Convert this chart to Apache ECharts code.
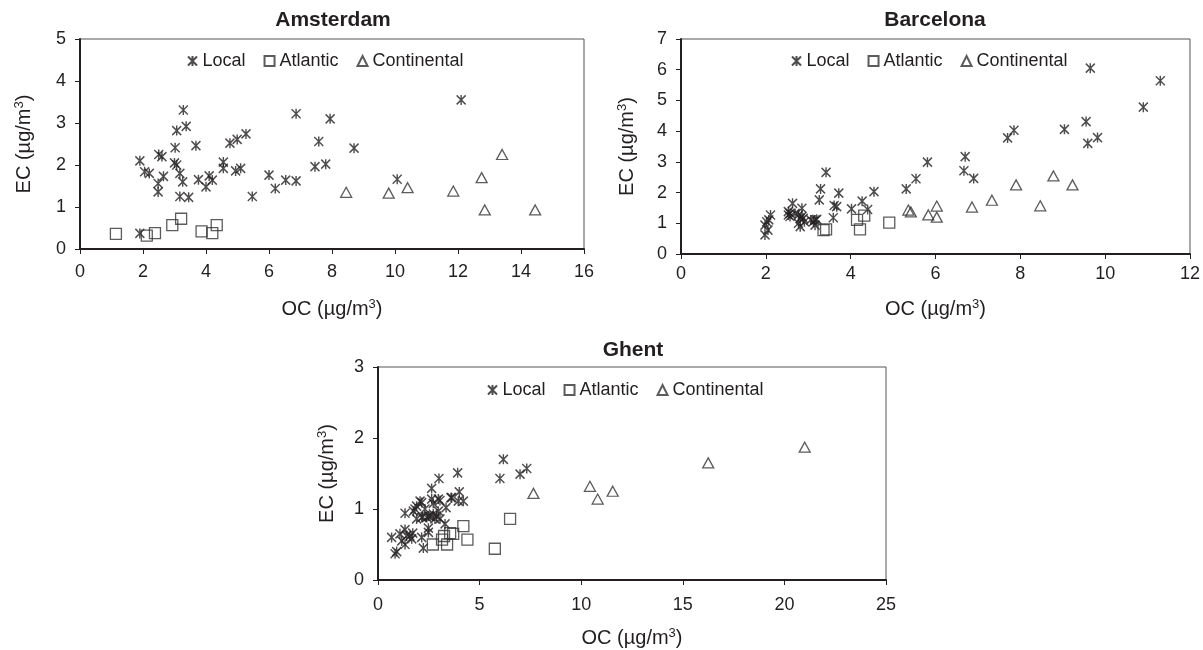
<!DOCTYPE html>
<html>
<head>
<meta charset="utf-8">
<script src="https://cdn.jsdelivr.net/npm/echarts@6.0.0/dist/echarts.min.js"></script>
<style>
html, body { margin: 0; padding: 0; background: #fff; }
#main { width: 1203px; height: 650px; }
</style>
</head>
<body>
<div id="main"></div>
<script>
// ---- data: [OC, EC] in µg/m3 ----
var seriesNames = ['Local', 'Atlantic', 'Continental'];

var amsLocal = [[1.9,2.1],[2.05,1.84],[2.2,1.8],[2.5,2.25],[2.6,2.2],[2.65,1.73],[2.48,1.56],[2.48,1.36],
  [3.0,2.05],[3.07,2.0],[3.02,2.41],[3.07,2.82],[3.37,2.92],[3.28,3.31],[3.17,1.8],[3.26,1.6],[3.17,1.25],
  [3.45,1.23],[3.68,2.46],[3.76,1.65],[4.0,1.48],[4.1,1.74],[4.2,1.64],[4.55,2.07],[4.55,1.92],[4.94,1.86],
  [5.1,1.92],[4.76,2.52],[4.99,2.61],[5.27,2.74],[5.47,1.25],[6.0,1.76],[6.2,1.44],[6.53,1.64],[6.86,1.62],
  [6.86,3.22],[7.46,1.96],[7.58,2.56],[7.8,2.02],[7.94,3.1],[8.7,2.4],[10.07,1.66],[12.1,3.55],[1.9,0.37]];
var amsAtlantic = [[1.14,0.36],[2.12,0.32],[2.38,0.38],[2.93,0.57],[3.21,0.72],[3.86,0.42],[4.2,0.38],[4.34,0.57]];
var amsContinental = [[8.45,1.35],[9.8,1.33],[10.4,1.46],[11.85,1.38],[12.75,1.7],[13.4,2.25],[12.85,0.93],[14.45,0.93]];

var bcnLocal = [[1.98,0.62],[2.05,0.78],[1.98,0.94],[2.02,1.05],[2.07,1.11],[2.11,1.27],
  [2.53,1.27],[2.57,1.32],[2.53,1.38],[2.57,1.22],[2.63,1.65],[2.69,1.32],[2.77,1.27],[2.81,1.16],[2.77,1.0],
  [2.81,0.89],[2.85,1.49],[2.88,1.16],[2.85,1.22],[2.91,1.05],[3.06,1.11],[3.12,1.05],[3.16,1.11],[3.2,1.13],
  [3.16,0.94],[3.26,1.76],[3.29,2.12],[3.42,2.66],[3.59,1.18],[3.61,1.58],[3.67,1.54],[3.72,1.98],[4.02,1.47],
  [4.27,1.72],[4.4,1.45],[4.55,2.03],[5.31,2.12],[5.54,2.45],[5.81,2.99],[6.7,3.17],[6.67,2.71],[6.9,2.46],
  [7.7,3.78],[7.85,4.03],[9.04,4.06],[9.55,4.31],[9.59,3.6],[9.82,3.79],[9.65,6.05],[10.9,4.78],[11.3,5.64]];
var bcnAtlantic = [[3.36,0.78],[3.42,0.8],[4.15,1.11],[4.22,0.8],[4.32,1.25],[4.91,1.02]];
var bcnContinental = [[5.36,1.43],[5.42,1.37],[5.83,1.27],[6.03,1.56],[6.03,1.2],[6.86,1.53],[7.33,1.75],
  [7.9,2.25],[8.47,1.57],[8.78,2.54],[9.23,2.25]];

var ghtLocal = [[0.67,0.6],[0.84,0.37],[0.92,0.4],[1.08,0.65],[1.17,0.55],[1.33,0.5],[1.33,0.71],[1.41,0.62],
  [1.57,0.62],[1.66,0.58],[1.71,0.66],[1.33,0.94],[1.74,0.97],[1.82,1.0],[1.9,0.86],[1.9,1.04],[2.07,1.11],
  [2.15,1.09],[2.15,0.88],[2.15,0.6],[2.2,0.89],[2.23,0.45],[2.31,1.0],[2.4,0.88],[2.48,0.9],[2.48,0.73],
  [2.48,0.67],[2.56,0.9],[2.64,1.14],[2.64,1.29],[2.72,1.08],[2.72,0.93],[2.8,0.86],[2.89,0.9],[2.97,0.97],
  [2.97,1.14],[3.0,1.43],[3.05,1.12],[3.05,0.86],[3.3,0.79],[3.35,1.02],[3.59,1.16],[3.63,1.16],[3.92,1.51],
  [4.0,1.24],[3.95,1.11],[4.2,1.11],[6.0,1.43],[6.17,1.7],[6.99,1.49],[7.32,1.57]];
var ghtAtlantic = [[2.7,0.5],[3.15,0.57],[3.25,0.62],[3.4,0.5],[3.55,0.66],[3.7,0.65],[4.2,0.76],[4.4,0.57],[5.75,0.44],[6.5,0.86]];
var ghtContinental = [[7.65,1.22],[10.43,1.32],[10.81,1.14],[11.55,1.25],[16.25,1.65],[21.0,1.87]];

// axis ticks
var amsXTicks = [0, 2, 4, 6, 8, 10, 12, 14, 16];
var amsYTicks = [0, 1, 2, 3, 4, 5];
var bcnXTicks = [0, 2, 4, 6, 8, 10, 12];
var bcnYTicks = [0, 1, 2, 3, 4, 5, 6, 7];
var ghtXTicks = [0, 5, 10, 15, 20, 25];
var ghtYTicks = [0, 1, 2, 3];

var FONT = 'Liberation Sans, Arial, sans-serif';
var INK = '#231f20';

var starPath = 'path://M0,0L9,9M9,0L0,9M4.5,-0.5L4.5,9.5';

// layout per panel
var panels = [
  { title: 'Amsterdam', data: [amsLocal, amsAtlantic, amsContinental], xt: amsXTicks, yt: amsYTicks,
    grid: { left: 80, top: 39, width: 504, height: 210 }, titleX: 333, titleY: 20,
    legend: { left: 187, top: 52 }, xGap: 49, xMargin: 14, yGap: 45 },
  { title: 'Barcelona', data: [bcnLocal, bcnAtlantic, bcnContinental], xt: bcnXTicks, yt: bcnYTicks,
    grid: { left: 681, top: 39, width: 509, height: 215 }, titleX: 935, titleY: 20,
    legend: { left: 791, top: 52 }, xGap: 44, xMargin: 11, yGap: 43 },
  { title: 'Ghent', data: [ghtLocal, ghtAtlantic, ghtContinental], xt: ghtXTicks, yt: ghtYTicks,
    grid: { left: 378, top: 367, width: 508, height: 214 }, titleX: 633, titleY: 350,
    legend: { left: 487, top: 381 }, xGap: 47, xMargin: 16, yGap: 40 }
];

var styles = [
  { symbol: starPath, symbolSize: [9, 10], itemStyle: { color: 'rgba(0,0,0,0)', borderColor: INK, borderWidth: 1.5 } },
  { symbol: 'rect', symbolSize: [11, 11], itemStyle: { color: 'rgba(0,0,0,0)', borderColor: '#333', borderWidth: 1.3 } },
  { symbol: 'triangle', symbolSize: [11, 10], itemStyle: { color: 'rgba(0,0,0,0)', borderColor: '#333', borderWidth: 1.3 } }
];

var nameRich = { sup: { fontSize: 13, verticalAlign: 'top', lineHeight: 22, fontFamily: FONT, color: INK } };

var grids = [], xAxes = [], yAxes = [], series = [], legends = [], graphics = [];

panels.forEach(function (p, i) {
  grids.push({ left: p.grid.left, top: p.grid.top, width: p.grid.width, height: p.grid.height,
    show: true, borderColor: '#555', borderWidth: 1, backgroundColor: 'transparent' });

  var xt = p.xt, yt = p.yt;
  xAxes.push({
    gridIndex: i, type: 'value', min: xt[0], max: xt[xt.length - 1], interval: xt[1] - xt[0],
    name: 'OC (µg/m{sup|3})', nameLocation: 'middle', nameGap: p.xGap,
    nameTextStyle: { fontSize: 20, color: INK, fontFamily: FONT, lineHeight: 22, rich: nameRich },
    axisLine: { show: true, onZero: false, lineStyle: { color: INK, width: 2 } },
    axisTick: { show: true, inside: false, length: 5, lineStyle: { color: INK, width: 1 } },
    axisLabel: { fontSize: 18, color: INK, fontFamily: FONT, margin: p.xMargin },
    splitLine: { show: false }
  });
  yAxes.push({
    gridIndex: i, type: 'value', min: yt[0], max: yt[yt.length - 1], interval: yt[1] - yt[0],
    name: 'EC (µg/m{sup|3})', nameLocation: 'middle', nameGap: p.yGap, nameRotate: 90,
    nameTextStyle: { fontSize: 20, color: INK, fontFamily: FONT, lineHeight: 22, rich: nameRich },
    axisLine: { show: true, onZero: false, lineStyle: { color: INK, width: 2 } },
    axisTick: { show: true, inside: false, length: 5, lineStyle: { color: INK, width: 1 } },
    axisLabel: { fontSize: 18, color: INK, fontFamily: FONT, margin: 14 },
    splitLine: { show: false }
  });

  seriesNames.forEach(function (nm, k) {
    series.push({
      name: nm, type: 'scatter', xAxisIndex: i, yAxisIndex: i,
      symbol: styles[k].symbol, symbolSize: styles[k].symbolSize,
      itemStyle: styles[k].itemStyle, data: p.data[k],
      silent: true, emphasis: { disabled: true }
    });
  });

  legends.push({
    data: seriesNames, left: p.legend.left, top: p.legend.top, orient: 'horizontal',
    padding: 0, itemGap: 18, itemWidth: 10, itemHeight: 10, selectedMode: false,
    textStyle: { fontSize: 18, color: INK, fontFamily: FONT }
  });

  graphics.push({
    type: 'text', x: p.titleX, y: p.titleY, silent: true,
    style: { text: p.title, font: 'bold 21px ' + FONT, fill: INK, textAlign: 'center', textVerticalAlign: 'middle' }
  });
});

var chart = echarts.init(document.getElementById('main'), null, { renderer: 'canvas' });
chart.setOption({
  animation: false,
  backgroundColor: '#fff',
  grid: grids,
  xAxis: xAxes,
  yAxis: yAxes,
  legend: legends,
  graphic: graphics,
  series: series
});
</script>
</body>
</html>
